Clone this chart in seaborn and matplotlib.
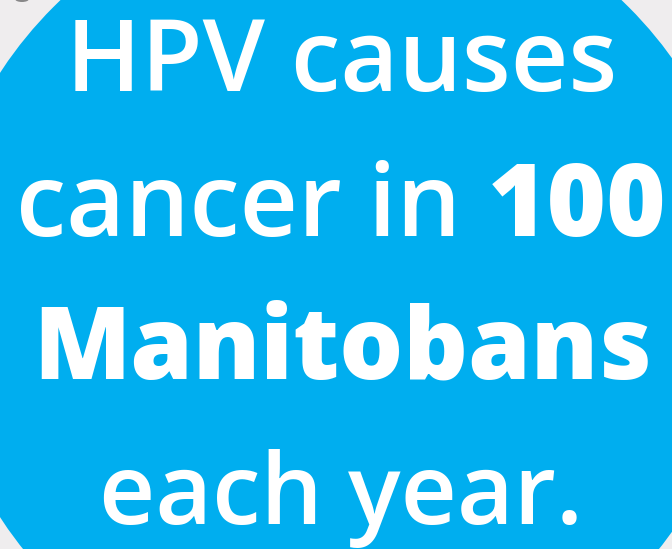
import matplotlib
matplotlib.use("Agg")
import matplotlib.pyplot as plt
import seaborn as sns
from matplotlib.patches import Circle, Ellipse

# ---- content ----
line1 = ["HPV causes"]
line2 = ["cancer in ", "100"]
line3 = ["Manitobans"]
line4 = ["each year."]
lines = [line1, line2, line3, line4]
weights = [[600], [600, 800], [800], [600]]
# target horizontal extent of each line (left, right)
extents = [(66, 618), (16, 666), (33, 652), (99, 583)]
baselines = [91, 236, 379, 524]

sns.set_theme(style="white")
plt.rcParams['font.family'] = ['Open Sans', 'DejaVu Sans']

W, H = 672, 549
fig = plt.figure(figsize=(W / 100, H / 100), dpi=100)
fig.patch.set_facecolor("#EFEDEE")
ax = fig.add_axes([0, 0, 1, 1])
ax.set_xlim(0, W)
ax.set_ylim(H, 0)
ax.set_facecolor("#EFEDEE")
ax.axis("off")

# small dark smudge at top-left
ax.add_patch(Ellipse((22, -1), 14, 6, color="#444444", alpha=0.6, lw=0))

ax.add_patch(Circle((341, 295), 407, color="#00AEEF", lw=0))

fs0 = 76.5
renderer = fig.canvas.get_renderer()

for parts, wts, yb, (xl, xr) in zip(lines, weights, baselines, extents):
    texts = [ax.text(0, yb, p, color="white", fontsize=fs0, fontweight=w,
                     ha="left", va="baseline") for p, w in zip(parts, wts)]
    widths = [t.get_window_extent(renderer=renderer).width for t in texts]
    scale = (xr - xl) / sum(widths)
    fs = fs0 * scale
    for t in texts:
        t.set_fontsize(fs)
    widths = [t.get_window_extent(renderer=renderer).width for t in texts]
    cur = (xl + xr) / 2 - sum(widths) / 2
    for t, wd in zip(texts, widths):
        t.set_x(cur)
        cur += wd

fig.savefig("out.png", dpi=100, facecolor=fig.get_facecolor())
